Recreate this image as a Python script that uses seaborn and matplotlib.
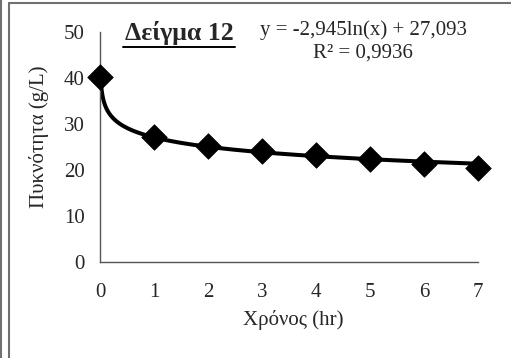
import numpy as np
import pandas as pd
import matplotlib
matplotlib.use('Agg')
import matplotlib.pyplot as plt
from matplotlib.lines import Line2D
import seaborn as sns

# data
time_hr = [0, 1, 2, 3, 4, 5, 6, 7]
density = [40.3, 27.2, 25.2, 24.2, 23.3, 22.3, 21.4, 20.4]

# trendline as printed on the chart: y = a*ln(x) + b
trend_a = -2.945
trend_b = 27.093
trend_r2 = 0.9936

sns.set_style('white')
plt.rcParams['font.family'] = ['Liberation Serif', 'DejaVu Serif']

df = pd.DataFrame({'time': time_hr, 'density': density})

# trendline starts just right of zero (Excel log fit), up to the last point
x_start = np.exp((density[0] - trend_b) / trend_a)
tx = np.geomspace(x_start, time_hr[-1], 300)
trend = pd.DataFrame({'time': tx, 'density': trend_a * np.log(tx) + trend_b})

fig = plt.figure(figsize=(5.11, 3.58), dpi=100)
ax = fig.add_axes([0.1957, 0.2682, 0.9354 - 0.1957, 0.9106 - 0.2682])

sns.lineplot(data=trend, x='time', y='density', color='black', linewidth=2.9, ax=ax)
sns.scatterplot(data=df, x='time', y='density', marker='D', s=170, color='black',
                edgecolor='black', linewidth=0.5, zorder=5, clip_on=False, ax=ax)

ax.set_xlim(0, 7)
ax.set_ylim(0, 50)
ax.set_xticks(range(0, 8))
ax.set_yticks(range(0, 51, 10))
for s in ['top', 'right']:
    ax.spines[s].set_visible(False)
for s in ['left', 'bottom']:
    ax.spines[s].set_color('#555555')
    ax.spines[s].set_linewidth(1.0)
ax.tick_params(axis='both', direction='out', length=4, width=1, color='#555555',
               labelsize=15)
ax.tick_params(axis='x', pad=11)
ax.tick_params(axis='y', pad=7)

ax.set_xlabel('Χρόνος (hr)', fontsize=15)
ax.set_ylabel('Πυκνότητα (g/L)', fontsize=15)
ax.xaxis.set_label_coords(0.51, -0.21)
ax.yaxis.set_label_coords(-0.135, 0.545)

fig.text(179 / 511, 1 - 33 / 358, 'Δείγμα 12', fontsize=18.5, fontweight='bold',
         ha='center', va='center')
fig.add_artist(Line2D([123 / 511, 235 / 511], [1 - 47 / 358, 1 - 47 / 358],
                      color='black', linewidth=1.4))
eq = 'y = ' + f'{trend_a:.3f}'.replace('.', ',') + 'ln(x) + ' + f'{trend_b:.3f}'.replace('.', ',')
fig.text(363 / 511, 1 - 30 / 358, eq, fontsize=15, ha='center', va='center')
fig.text(363 / 511, 1 - 53 / 358, 'R² = ' + f'{trend_r2:.4f}'.replace('.', ','),
         fontsize=15, ha='center', va='center')

# chart frame lines
fig.add_artist(Line2D([8.5 / 511, 1], [1 - 2.5 / 358, 1 - 2.5 / 358], color='#707070', linewidth=1.5))
fig.add_artist(Line2D([8.5 / 511, 8.5 / 511], [0, 1 - 2.5 / 358], color='#707070', linewidth=1.5))
fig.add_artist(Line2D([0.5 / 511, 0.5 / 511], [0, 1], color='#707070', linewidth=1.5))

fig.savefig('out.png', dpi=100)
